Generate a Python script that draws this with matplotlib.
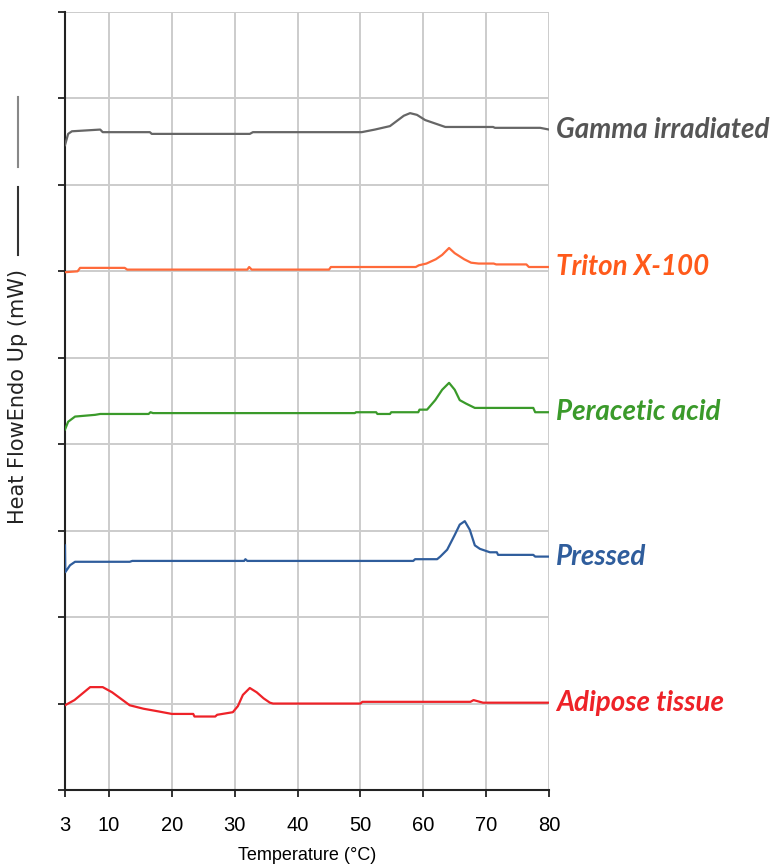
#!/usr/bin/env python3

import matplotlib
matplotlib.use("Agg")
import matplotlib.pyplot as plt
from matplotlib.lines import Line2D


# ---------------------------------------------------
# DSC THERMOGRAMS (heat flow, stacked, arbitrary units)
# ---------------------------------------------------
gamma_T = [3, 3.5, 4.1, 8.6, 9.0, 16.5, 16.8, 32.4, 32.9, 50.2, 52.3, 54.7,
           56.9, 57.9, 59.0, 60.3, 61.9, 63.5, 71.1, 71.4, 78.6, 80]
gamma_hf = [7.46, 7.59, 7.62, 7.64, 7.61, 7.61, 7.59, 7.59, 7.61, 7.61, 7.64, 7.68,
            7.80, 7.83, 7.81, 7.75, 7.71, 7.67, 7.67, 7.66, 7.66, 7.64]

triton_T = [3, 5.0, 5.4, 12.5, 12.9, 32.0, 32.3, 32.7, 45.0, 45.3, 58.8, 59.3,
            60.5, 62.0, 63.0, 64.1, 65.0, 66.5, 67.6, 68.8, 71.2, 71.6, 76.4, 76.8, 80]
triton_hf = [5.99, 6.00, 6.04, 6.04, 6.02, 6.02, 6.05, 6.02, 6.02, 6.05, 6.05, 6.07,
             6.09, 6.14, 6.19, 6.27, 6.21, 6.14, 6.10, 6.09, 6.09, 6.08, 6.08, 6.05, 6.05]

peracetic_T = [3, 3.5, 4.6, 7.8, 8.6, 16.3, 16.6, 17.0, 49.1, 49.3, 52.5, 52.7,
               54.7, 54.9, 59.2, 59.4, 60.6, 61.9, 63.0, 64.1, 65.0, 65.8, 66.8,
               68.2, 77.5, 77.8, 80]
peracetic_hf = [4.17, 4.26, 4.32, 4.34, 4.35, 4.35, 4.37, 4.36, 4.36, 4.37, 4.37, 4.35,
                4.35, 4.37, 4.37, 4.40, 4.40, 4.51, 4.63, 4.71, 4.63, 4.51, 4.47,
                4.42, 4.42, 4.37, 4.37]

pressed_T = [3, 3.05, 3.8, 4.6, 13.3, 13.7, 31.5, 31.7, 32.0, 58.4, 58.7, 62.2,
             62.7, 63.8, 65.0, 65.8, 66.6, 67.4, 68.2, 69.0, 70.6, 71.7, 71.9,
             77.5, 77.8, 80]
pressed_hf = [2.83, 2.52, 2.60, 2.64, 2.64, 2.65, 2.65, 2.67, 2.65, 2.65, 2.67, 2.67,
              2.70, 2.78, 2.95, 3.07, 3.11, 3.01, 2.83, 2.79, 2.75, 2.75, 2.72,
              2.72, 2.70, 2.70]

adipose_T = [3, 4.5, 6.0, 7.0, 9.0, 10.5, 13.3, 15.5, 17.8, 20.0, 23.4, 23.6,
             26.9, 27.2, 29.7, 30.5, 31.3, 32.4, 33.5, 34.6, 35.6, 36.1, 50.0,
             50.3, 67.5, 68.0, 69.0, 69.5, 78.0, 80]
adipose_hf = [0.98, 1.04, 1.13, 1.19, 1.19, 1.13, 0.98, 0.94, 0.91, 0.88, 0.88, 0.85,
              0.85, 0.87, 0.90, 0.97, 1.10, 1.18, 1.13, 1.06, 1.01, 1.00, 1.00,
              1.02, 1.02, 1.04, 1.02, 1.01, 1.01, 1.01]

series = [
    ("Gamma irradiated", gamma_T, gamma_hf, "#666666", "#555555"),
    ("Triton X-100", triton_T, triton_hf, "#ff6a3a", "#ff5a1a"),
    ("Peracetic acid", peracetic_T, peracetic_hf, "#3a9a2a", "#3a9a2a"),
    ("Pressed", pressed_T, pressed_hf, "#2f5d9c", "#2f5d9c"),
    ("Adipose tissue", adipose_T, adipose_hf, "#ee2228", "#ee2228"),
]

x_ticks = [3, 10, 20, 30, 40, 50, 60, 70, 80]
y_ticks = list(range(0, 10))


# ---------------------------------------------------
# PLOT
# ---------------------------------------------------
fig = plt.figure(figsize=(7.8, 8.67), dpi=100)
ax = fig.add_axes([65 / 780, 77 / 867, 484 / 780, 778 / 867])

for name, t, hf, line_color, text_color in series:
    ax.plot(t, hf, color=line_color, linewidth=1.6, zorder=3)
    ax.annotate(
        name,
        xy=(t[-1], hf[-1]),
        xytext=(5, 0),
        textcoords="offset points",
        ha="left",
        va="center",
        fontsize=20,
        fontweight="bold",
        fontstyle="italic",
        family="Lato",
        color=text_color,
        annotation_clip=False,
    )

ax.set_xlim(3, 80)
ax.set_ylim(0, 9)
ax.set_xticks(x_ticks)
ax.set_yticks(y_ticks)
ax.set_yticklabels([])
ax.grid(True, color="#cccccc", linewidth=1.4)
ax.set_axisbelow(True)

for side in ["top", "right"]:
    ax.spines[side].set_visible(False)
for side in ["left", "bottom"]:
    ax.spines[side].set_linewidth(1.5)
    ax.spines[side].set_color("#222222")

ax.tick_params(axis="both", direction="out", length=5, width=1.3, color="#222222")
ax.tick_params(axis="x", labelsize=14.5, pad=14)
for lbl in ax.get_xticklabels():
    lbl.set_family("Liberation Sans")

ax.set_xlabel("Temperature (°C)", fontsize=13, family="Liberation Sans", labelpad=8)

# y label with the two short legend strokes above it
fig.text(18 / 780, 1 - 396 / 867, "Heat FlowEndo Up (mW)", rotation=90,
         ha="center", va="center", fontsize=15, family="DejaVu Sans", color="#222222")
fig.add_artist(Line2D([18 / 780, 18 / 780], [1 - 97 / 867, 1 - 167 / 867],
                      color="#888888", linewidth=1.5, transform=fig.transFigure))
fig.add_artist(Line2D([18 / 780, 18 / 780], [1 - 187 / 867, 1 - 255 / 867],
                      color="#333333", linewidth=1.5, transform=fig.transFigure))

fig.savefig("out.png", dpi=100)
